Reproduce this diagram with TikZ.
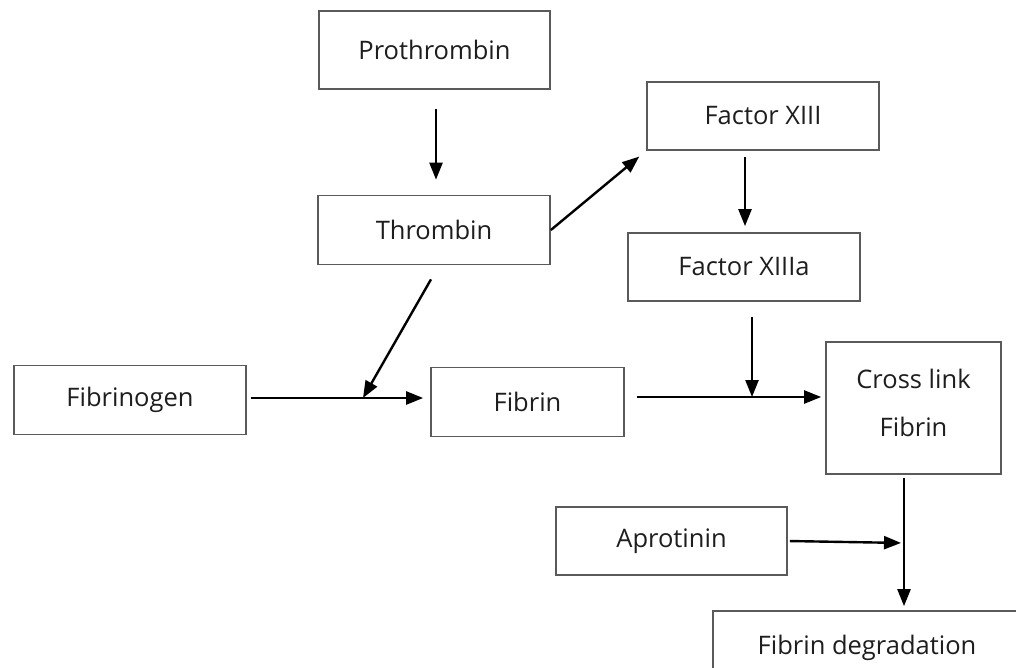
\documentclass[tikz,border=0pt]{standalone}
\usepackage{fontspec}
\setmainfont{Open Sans}
\usetikzlibrary{arrows.meta,calc}
\definecolor{boxline}{RGB}{90,90,90}
\definecolor{txt}{RGB}{30,30,30}
\tikzset{
  box/.style={draw=boxline, line width=1.7pt, rectangle, inner sep=0pt, text=txt,
    font=\fontsize{25.5}{31}\selectfont, align=center},
  lbl/.style={inner sep=0pt, text=txt, font=\fontsize{25.5}{31}\selectfont, align=center},
  arr/.style={draw=black, line width=2.4pt, -{Triangle[length=17pt,width=13pt]}}
}
\begin{document}
\begin{tikzpicture}[x=1pt,y=-1pt]
\clip (0,0) rectangle (1016,668);
\fill[white] (0,0) rectangle (1016,668);
\node[box, minimum width=231pt, minimum height=78pt] (pro) at (434.5,50) {Prothrombin};
\node[box, minimum width=232pt, minimum height=68pt] (f13) at (763,116) {Factor XIII};
\node[box, minimum width=232pt, minimum height=69pt] (thr) at (434,230) {Thrombin};
\node[box, minimum width=232pt, minimum height=68pt] (f13a) at (744,267) {Factor XIIIa};
\node[box, minimum width=232pt, minimum height=69pt] (fgn) at (130,400) {Fibrinogen};
\node[box, minimum width=193pt, minimum height=69pt] (fbn) at (527.5,402) {Fibrin};
\node[box, minimum width=175pt, minimum height=132pt] (xl) at (913.5,408) {};
\node[lbl] (xlt) at (913.5,403) {Cross link\\[17pt]Fibrin};
\node[box, minimum width=231pt, minimum height=68pt] (apr) at (671.5,541) {Aprotinin};
\node[box, minimum width=308pt, minimum height=74pt] (deg) at (867,648) {Fibrin degradation};
% junctions
\coordinate (j1) at (363,398);
\coordinate (j2) at (752,397);
\coordinate (j3) at (904,543);
\coordinate (t1) at ($(thr.south)+(-3,14)$);
\coordinate (a1) at ($(f13a.south)+(8,15)$);
% connectors
\draw[arr, shorten <=19pt, shorten >=15pt] ($(pro.south)+(1.5,0)$) -- ($(thr.north)+(2,0)$);
\draw[arr, shorten >=9pt] (thr.east) -- (f13.south west);
\draw[arr, shorten <=6pt, shorten >=6pt] ($(f13.south)+(-18,0)$) -- ($(f13a.north)+(1,0)$);
\draw[arr] (t1) -- (j1);
\draw[arr, shorten <=4pt, shorten >=7pt] (fgn.east |- j1) -- (fbn.west |- j1);
\draw[arr, shorten <=12pt, shorten >=4pt] (fbn.east |- j2) -- (xl.west |- j2);
\draw[arr] (a1) -- (j2);
\draw[arr, shorten <=3pt, shorten >=4pt] (xl.south -| j3) -- (deg.north -| j3);
\draw[arr, shorten <=2pt, shorten >=3pt] (apr.east) -- (j3);
\end{tikzpicture}
\end{document}
